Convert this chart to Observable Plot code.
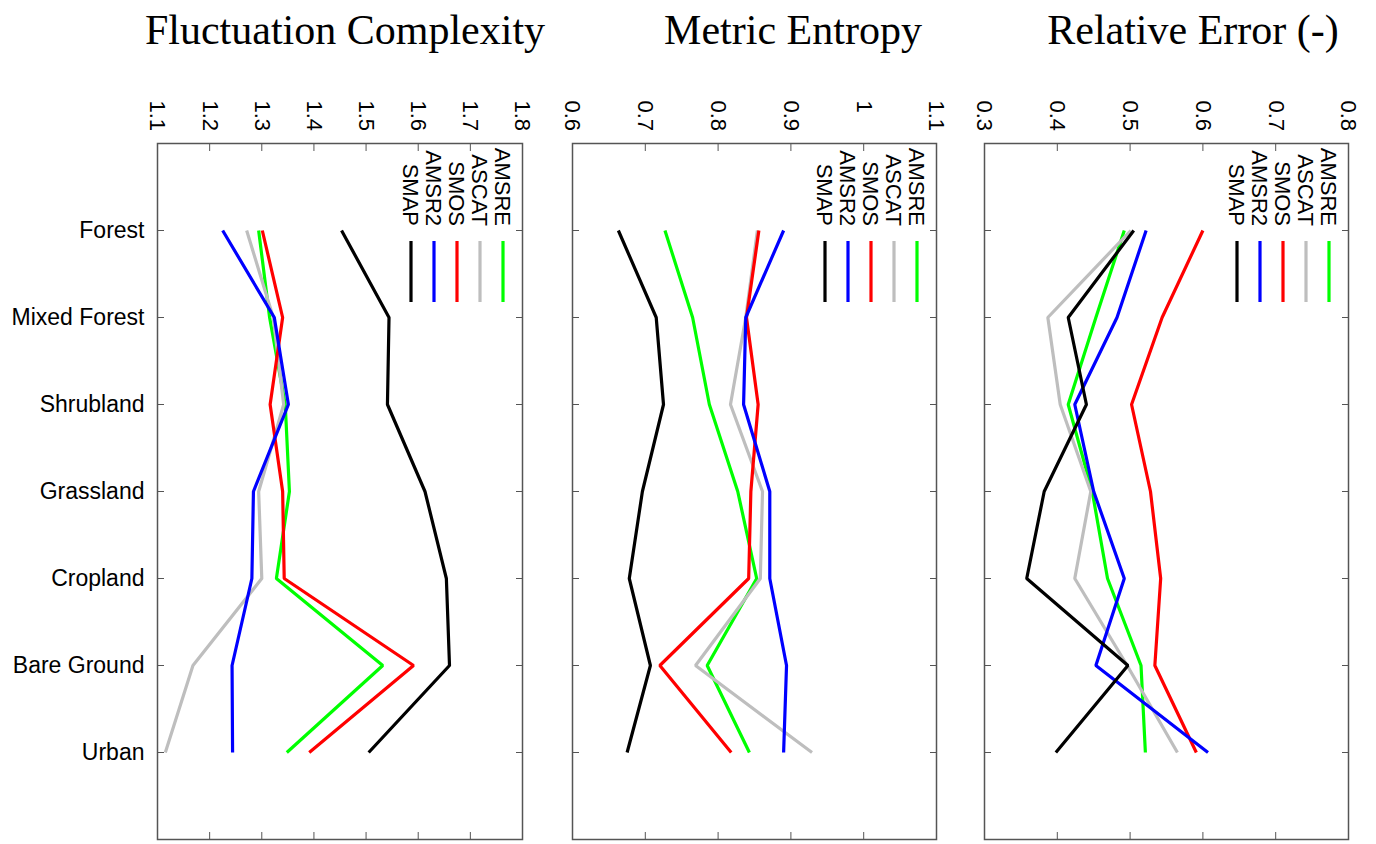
<!DOCTYPE html>
<html><head><meta charset="utf-8">
<script src="https://cdn.jsdelivr.net/npm/d3@7"></script>
<script src="https://cdn.jsdelivr.net/npm/@observablehq/plot@0.6"></script>
<style>
html,body{margin:0;padding:0;background:#fff;}
body{width:1376px;height:844px;overflow:hidden;position:relative;font-family:"Liberation Sans",Arial,Helvetica,sans-serif;}
.panel{position:absolute;top:0;}
.title{position:absolute;top:9px;font-family:"Liberation Serif","Times New Roman",serif;font-size:42px;line-height:42px;white-space:nowrap;transform:translateX(-50%);color:#000;}
</style></head><body>
<script>
const categories = ["Forest","Mixed Forest","Shrubland","Grassland","Cropland","Bare Ground","Urban"];
const seriesNames = ["AMSRE","ASCAT","SMOS","AMSR2","SMAP"];
const seriesColors = ["#00ff00","#bebebe","#ff0000","#0000ff","#000000"];
const panelTitles = ["Fluctuation Complexity","Metric Entropy","Relative Error (-)"];

// Fluctuation Complexity
const fcAMSRE = [1.294,1.315,1.345,1.353,1.328,1.532,1.348];
const fcASCAT = [1.271,1.322,1.342,1.294,1.300,1.168,1.115];
const fcSMOS  = [1.301,1.340,1.316,1.340,1.343,1.591,1.391];
const fcAMSR2 = [1.225,1.324,1.351,1.284,1.281,1.243,1.244];
const fcSMAP  = [1.453,1.544,1.541,1.613,1.654,1.660,1.505];
const fcTicks = [1.1,1.2,1.3,1.4,1.5,1.6,1.7,1.8];

// Metric Entropy
const meAMSRE = [0.727,0.765,0.788,0.827,0.853,0.785,0.843];
const meASCAT = [0.854,0.838,0.817,0.861,0.858,0.769,0.929];
const meSMOS  = [0.856,0.839,0.855,0.845,0.842,0.720,0.818];
const meAMSR2 = [0.890,0.838,0.835,0.871,0.871,0.894,0.890];
const meSMAP  = [0.663,0.715,0.725,0.696,0.678,0.707,0.675];
const meTicks = [0.6,0.7,0.8,0.9,1,1.1];

// Relative Error
const reAMSRE = [0.492,0.453,0.415,0.448,0.469,0.515,0.521];
const reASCAT = [0.501,0.387,0.404,0.446,0.424,0.496,0.565];
const reSMOS  = [0.600,0.544,0.502,0.528,0.542,0.534,0.591];
const reAMSR2 = [0.522,0.482,0.424,0.450,0.492,0.453,0.607];
const reSMAP  = [0.505,0.415,0.440,0.382,0.358,0.497,0.398];
const reTicks = [0.3,0.4,0.5,0.6,0.7,0.8];

function tidy(arrays) {
  const rows = [];
  seriesNames.forEach((s, i) => arrays[i].forEach((v, j) => rows.push({series: s, cat: categories[j], value: v})));
  return rows;
}

const panels = [
  {title: panelTitles[0], data: tidy([fcAMSRE,fcASCAT,fcSMOS,fcAMSR2,fcSMAP]), ticks: fcTicks,
   left: 0, width: 560, marginLeft: 157, marginRight: 38, showCats: true, titleX: 345},
  {title: panelTitles[1], data: tidy([meAMSRE,meASCAT,meSMOS,meAMSR2,meSMAP]), ticks: meTicks,
   left: 548, width: 412, marginLeft: 24, marginRight: 24, showCats: false, titleX: 793},
  {title: panelTitles[2], data: tidy([reAMSRE,reASCAT,reSMOS,reAMSR2,reSMAP]), ticks: reTicks,
   left: 960, width: 416, marginLeft: 24, marginRight: 28, showCats: false, titleX: 1193}
];

const axisGrey = "#555";
const sansFont = '"Liberation Sans", Arial, Helvetica, sans-serif';

function legendMark(index, scales, values, dims) {
  const g = d3.create("svg:g")
    .attr("font-family", sansFont)
    .attr("font-size", 22)
    .attr("fill", "#000");
  const right = dims.width - dims.marginRight;
  const top = dims.marginTop;
  seriesNames.forEach((name, i) => {
    const x = right - 19 - 23 * i;
    g.append("text")
      .attr("transform", `translate(${x},${top + 83}) rotate(90)`)
      .attr("text-anchor", "end")
      .attr("dy", "0.36em")
      .text(name);
    g.append("line")
      .attr("x1", x).attr("x2", x)
      .attr("y1", top + 98).attr("y2", top + 159)
      .attr("stroke", seriesColors[i])
      .attr("stroke-width", 3.2);
  });
  return g.node();
}

panels.forEach(p => {
  const chart = Plot.plot({
    width: p.width,
    height: 844,
    marginLeft: p.marginLeft,
    marginRight: p.marginRight,
    marginTop: 143,
    marginBottom: 5,
    style: {fontFamily: sansFont, fontSize: "22px", background: "transparent", color: "#000"},
    x: {domain: [p.ticks[0], p.ticks[p.ticks.length - 1]]},
    y: {type: "point", domain: categories, padding: 1},
    color: {domain: seriesNames, range: seriesColors},
    marks: [
      Plot.axisX({anchor: "top", ticks: p.ticks, tickSize: -7, tickPadding: 50, tickRotate: 90,
                  tickFormat: d => String(d),
                  textAnchor: "start", stroke: axisGrey, fill: "#000", fontSize: 22, label: null}),
      Plot.axisX({anchor: "bottom", ticks: p.ticks, tickSize: -7, tickFormat: () => "", stroke: axisGrey, label: null}),
      Plot.axisY({anchor: "left", tickSize: -7, tickPadding: 20, stroke: axisGrey, fill: "#000", fontSize: 23,
                  tickFormat: p.showCats ? (d => d) : (() => ""), label: null}),
      Plot.axisY({anchor: "right", tickSize: -7, tickFormat: () => "", stroke: axisGrey, label: null}),
      Plot.line(p.data, {x: "value", y: "cat", z: "series", stroke: "series", strokeWidth: 3.2,
                         strokeLinejoin: "miter", strokeLinecap: "butt"}),
      legendMark,
      Plot.frame({stroke: axisGrey, strokeWidth: 1.5})
    ]
  });
  chart.classList.add("panel");
  chart.style.left = p.left + "px";
  document.body.appendChild(chart);
  const t = document.createElement("div");
  t.className = "title";
  t.style.left = p.titleX + "px";
  t.textContent = p.title;
  document.body.appendChild(t);
});
</script>
</body></html>
